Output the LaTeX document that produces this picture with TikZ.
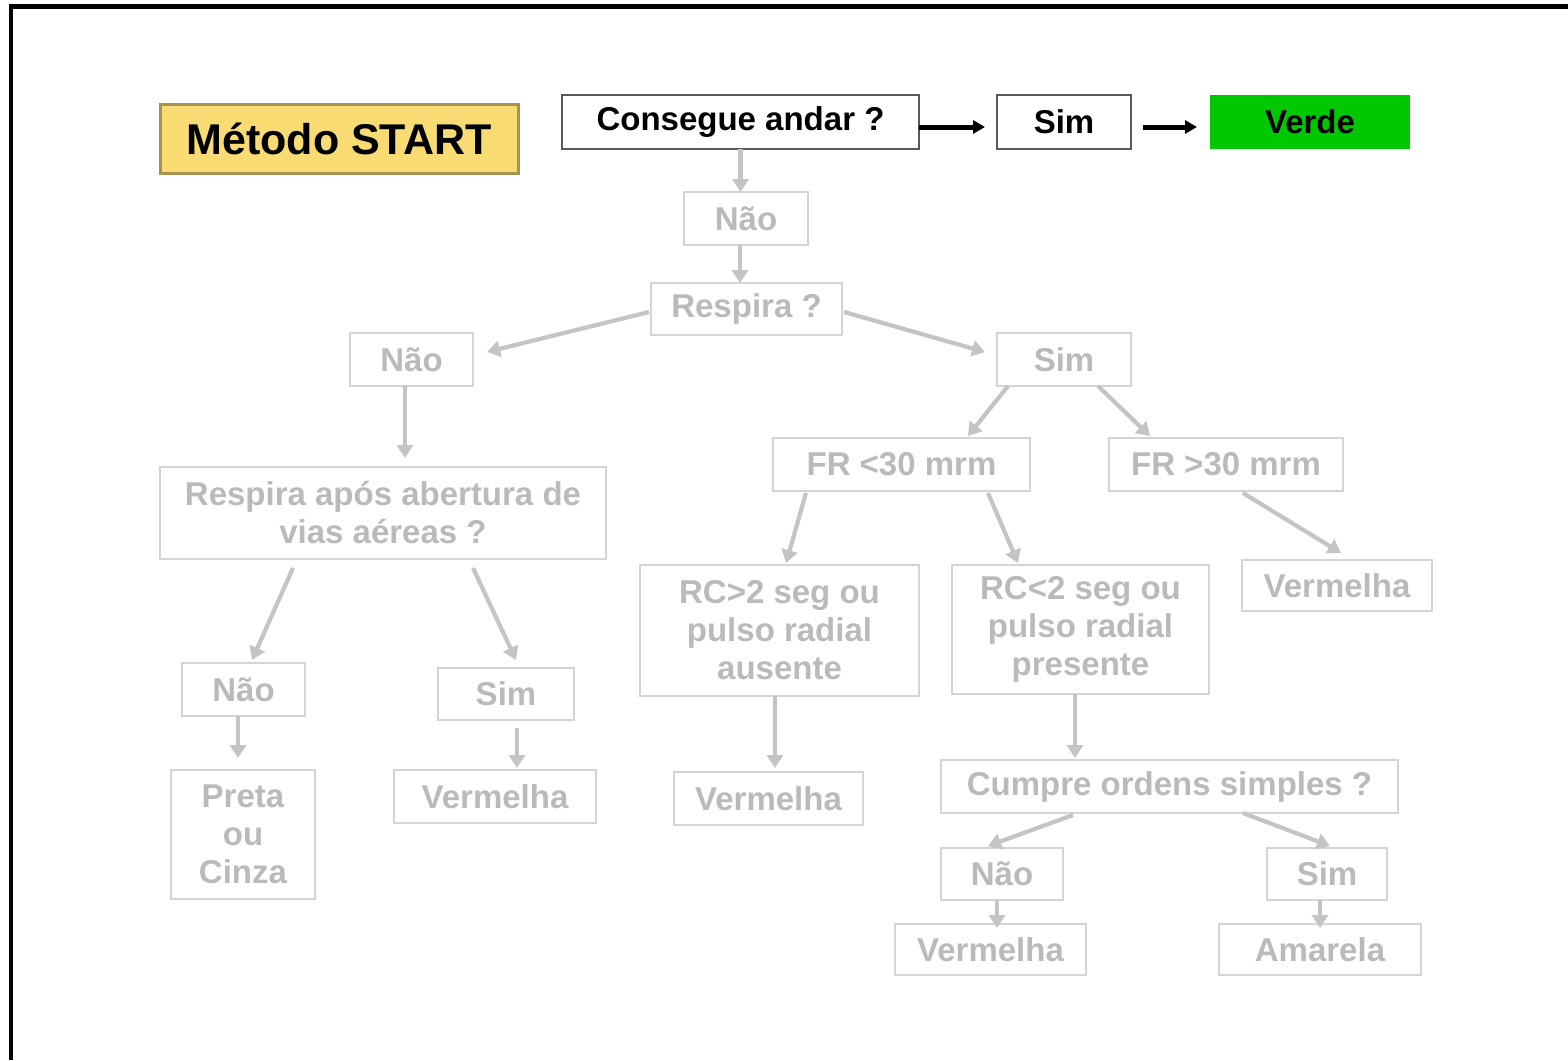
\documentclass[tikz,border=0pt]{standalone}
\usepackage{fontspec}
\setmainfont{Liberation Sans}
\usetikzlibrary{arrows.meta}
\definecolor{gtext}{RGB}{186,186,186}
\definecolor{gbox}{RGB}{212,212,212}
\definecolor{garrow}{RGB}{196,196,196}
\definecolor{titlefill}{RGB}{248,219,115}
\definecolor{titledraw}{RGB}{168,146,78}
\definecolor{verdefill}{RGB}{0,200,0}
\tikzset{
  gbx/.style={draw=gbox, line width=1.3pt, text=gtext, font=\fontsize{16.5}{19}\selectfont\bfseries, align=center, inner sep=0pt, outer sep=0pt},
  bbx/.style={draw=black!65, line width=1pt, text=black, font=\fontsize{16.5}{19}\selectfont\bfseries, align=center, inner sep=0pt, outer sep=0pt},
  garr/.style={draw=garrow, line width=2.1pt, -{Triangle[length=6.5pt,width=8pt]}},
  barr/.style={draw=black, line width=2.5pt, -{Triangle[length=6pt,width=6.5pt]}},
}
\newcommand{\bx}[6]{\node[#1, minimum width=#4*0.5pt, minimum height=#5*0.5pt] (#2) at (#3) {#6};}
\begin{document}
\begin{tikzpicture}[x=0.5pt,y=-0.5pt]
\useasboundingbox (0,0) rectangle (1568,1060);
\fill[white] (0,0) rectangle (1568,1060);
% frame
\coordinate (fa) at (11,1060);
\coordinate (fb) at (11,6.5);
\coordinate (fc) at (1568,6.5);
\draw[line width=2.3pt, black] (fa) -- (fb) -- (fc);
% title
\node[draw=titledraw, fill=titlefill, line width=1.5pt, minimum width=358*0.5pt, minimum height=69*0.5pt, inner sep=0pt, font=\fontsize{21.5}{24}\selectfont\bfseries] (title) at (339,138.5) {Método START};
% top row
\bx{bbx}{q1}{740.5,122}{357}{54}{Consegue andar ?}
\bx{bbx}{sim1}{1064,122}{134}{54}{Sim}
\node[fill=verdefill, minimum width=200*0.5pt, minimum height=54*0.5pt, inner sep=0pt, outer sep=0pt, font=\fontsize{16.5}{19}\selectfont\bfseries] (verde) at (1310,122) {Verde};
% grey nodes
\bx{gbx}{nao1}{746,218.5}{124}{53}{Não}
\bx{gbx}{resp}{746.5,309}{191}{52}{Respira ?}
\bx{gbx}{nao2}{411.5,359.5}{123}{53}{Não}
\bx{gbx}{sim2}{1064,359.5}{134}{53}{Sim}
\bx{gbx}{resp2}{383,513}{446}{92}{Respira após abertura de\\vias aéreas ?}
\bx{gbx}{nao3}{243.5,689.5}{123}{53}{Não}
\bx{gbx}{sim3}{506,694}{136}{52}{Sim}
\bx{gbx}{preta}{243,834.5}{144}{129}{Preta\\ou\\Cinza}
\bx{gbx}{verm1}{495,796.5}{202}{53}{Vermelha}
\bx{gbx}{fr1}{901.5,464.5}{257}{53}{FR <30 mrm}
\bx{gbx}{fr2}{1226,464.5}{234}{53}{FR >30 mrm}
\bx{gbx}{verm2}{1337,585.5}{190}{51}{Vermelha}
\bx{gbx}{rc1}{779.5,630.5}{279}{131}{RC>2 seg ou\\pulso radial\\ausente}
\bx{gbx}{rc2}{1080.5,629.5}{257}{129}{RC<2 seg ou\\pulso radial\\presente}
\bx{gbx}{verm3}{768.5,798.5}{189}{53}{Vermelha}
\bx{gbx}{cumpre}{1169.5,786.5}{457}{53}{Cumpre ordens simples ?}
\bx{gbx}{nao4}{1002,874}{122}{52}{Não}
\bx{gbx}{sim4}{1327,874}{120}{52}{Sim}
\bx{gbx}{verm4}{990.5,949.5}{191}{51}{Vermelha}
\bx{gbx}{amar}{1320,949.5}{202}{51}{Amarela}
% black arrows
\draw[barr] ([shift={(0,5)}]q1.east) -- ([shift={(-12,5)}]sim1.west);
\draw[barr] ([shift={(12,5)}]sim1.east) -- ([shift={(-13,5)}]verde.west);
% grey arrows
\draw[garr] (q1.south) -- (q1.south |- nao1.north);
\draw[garr] ([xshift=-3pt]nao1.south) -- ([shift={(-6,0)}]nao1.south |- resp.north);
\draw[garr] ([shift={(-2,3)}]resp.west) -- ([shift={(14,-7.5)}]nao2.east);
\draw[garr] ([shift={(2,3)}]resp.east) -- ([shift={(-12,-7.5)}]sim2.west);
\draw[garr] ([xshift=-3.25pt]nao2.south) -- ([shift={(-6.5,-9)}]nao2.south |- resp2.north);
\draw[garr] ([shift={(-90,9)}]resp2.south) -- ([shift={(8.5,-3)}]nao3.north);
\draw[garr] ([shift={(90,9)}]resp2.south) -- ([shift={(10,-8)}]sim3.north);
\draw[garr] ([xshift=-2.75pt]nao3.south) -- ([shift={(-5,-12)}]preta.north);
\draw[garr] ([shift={(11,8)}]sim3.south) -- ([shift={(22,-2)}]verm1.north);
\draw[garr] ([shift={(-56,0)}]sim2.south) -- ([shift={(66.5,-2)}]fr1.north);
\draw[garr] ([shift={(34,0)}]sim2.south) -- ([shift={(-76,-2)}]fr2.north);
\draw[garr] ([shift={(-95.5,2)}]fr1.south) -- ([shift={(6.5,-2)}]rc1.north);
\draw[garr] ([shift={(86.5,2)}]fr1.south) -- ([shift={(-62.5,-2)}]rc2.north);
\draw[garr] ([shift={(17,2)}]fr2.south) -- ([shift={(4,-7)}]verm2.north);
\draw[garr] ([xshift=-2.25pt]rc1.south) -- ([shift={(6.5,-4)}]verm3.north);
\draw[garr] ([xshift=-2.75pt]rc2.south) -- ([shift={(-94.5,-2)}]cumpre.north);
\draw[garr] ([shift={(-96.5,2)}]cumpre.south) -- ([shift={(-14,-2)}]nao4.north);
\draw[garr] ([shift={(73.5,0)}]cumpre.south) -- ([shift={(3,-2)}]sim4.north);
\draw[garr] ([xshift=-2.5pt]nao4.south) -- ([shift={(6.5,4)}]verm4.north);
\draw[garr] ([xshift=-3.5pt]sim4.south) -- ([shift={(0,4)}]amar.north);
\end{tikzpicture}
\end{document}
